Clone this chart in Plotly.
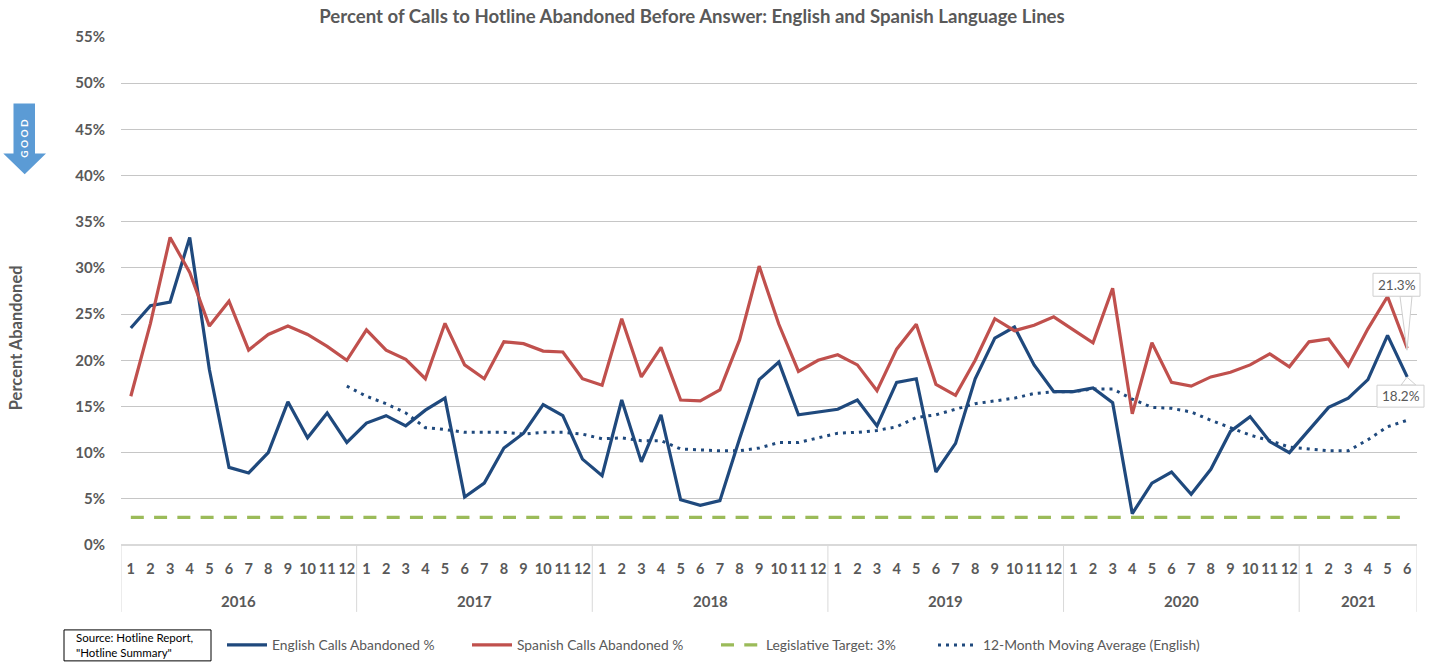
import plotly.graph_objects as go

years = [2016, 2017, 2018, 2019, 2020, 2021]
months_in_year = [12, 12, 12, 12, 12, 6]
month_labels = [str(m) for n in months_in_year for m in range(1, n + 1)]

english = [23.5, 25.9, 26.3, 33.3, 19.0, 8.4, 7.8, 10.0, 15.5, 11.6, 14.3, 11.1,
           13.2, 14.0, 12.9, 14.6, 15.9, 5.2, 6.7, 10.5, 12.1, 15.2, 14.0, 9.3,
           7.5, 15.7, 9.0, 14.1, 4.9, 4.3, 4.8, 11.5, 17.9, 19.8, 14.1, 14.4,
           14.7, 15.7, 12.9, 17.6, 18.0, 7.9, 11.0, 18.0, 22.4, 23.6, 19.5, 16.6,
           16.6, 17.0, 15.4, 3.4, 6.7, 7.9, 5.5, 8.2, 12.3, 13.9, 11.2, 10.0,
           12.5, 14.9, 15.9, 17.9, 22.7, 18.2]
spanish = [16.1, 24.0, 33.3, 29.5, 23.7, 26.4, 21.1, 22.8, 23.7, 22.8, 21.5, 20.0,
           23.3, 21.1, 20.1, 18.0, 24.0, 19.5, 18.0, 22.0, 21.8, 21.0, 20.9, 18.0,
           17.3, 24.5, 18.2, 21.4, 15.7, 15.6, 16.8, 22.2, 30.2, 23.9, 18.8, 20.0,
           20.6, 19.5, 16.7, 21.2, 23.9, 17.4, 16.2, 20.0, 24.5, 23.2, 23.8, 24.7,
           23.3, 21.9, 27.8, 14.2, 21.9, 17.6, 17.2, 18.2, 18.7, 19.5, 20.7, 19.3,
           22.0, 22.3, 19.4, 23.4, 26.9, 21.3]
target = [3.0] * 66
moving_avg = [None] * 11 + [
    17.2, 16.1, 15.3, 14.3, 12.7, 12.5, 12.2, 12.2, 12.2, 12.0, 12.2, 12.2, 12.0,
    11.5, 11.6, 11.3, 11.3, 10.4, 10.3, 10.2, 10.2, 10.5, 11.1, 11.1, 11.6,
    12.1, 12.2, 12.4, 12.8, 13.8, 14.1, 14.7, 15.3, 15.6, 15.9, 16.4, 16.6,
    16.6, 16.9, 16.9, 15.8, 14.9, 14.8, 14.4, 13.5, 12.7, 11.9, 11.3, 10.6,
    10.4, 10.2, 10.2, 11.4, 12.8, 13.5]

W, H = 1429, 662
L, R, T, B = 121, 1417, 36.5, 545
GREY = "#595959"
FONT = "Lato"
xs = list(range(len(english)))

def px(x):
    return (x - L) / (R - L)

def py(y):
    return (B - y) / (B - T)

def path(points):
    return "M " + " L ".join(f"{px(x):.5f},{py(y):.5f}" for x, y in points) + " Z"

def legend_at(x):
    return dict(orientation="h", xref="container", yref="container", x=x / W, xanchor="left",
                y=1 - 645 / H, yanchor="middle", itemwidth=40, bgcolor="rgba(0,0,0,0)",
                font=dict(family=FONT, size=13.8, color=GREY))

def note(text, x, y, size, color=GREY, **kw):
    opts = dict(text=text, xref="paper", yref="paper", x=px(x), y=py(y), xanchor="center", yanchor="middle",
                showarrow=False, font=dict(family=FONT, size=size, color=color))
    opts.update(kw)
    return opts

fig = go.Figure()
fig.add_trace(go.Scatter(x=xs, y=english, mode="lines", name="English Calls Abandoned %", legend="legend",
                         showlegend=True, line=dict(color="#1F497D", width=3.2)))
fig.add_trace(go.Scatter(x=xs, y=spanish, mode="lines", name="Spanish Calls Abandoned %", legend="legend2",
                         showlegend=True, line=dict(color="#C0504D", width=3.2)))
fig.add_trace(go.Scatter(x=xs, y=target, mode="lines", name="Legislative Target: 3%", legend="legend3",
                         showlegend=True, line=dict(color="#9BBB59", width=3.2, dash="13px,10.26px")))
fig.add_trace(go.Scatter(x=xs, y=moving_avg, mode="lines", name="12-Month Moving Average (English)", legend="legend4",
                         showlegend=True, connectgaps=False, line=dict(color="#1F497D", width=3, dash="3px,5px")))

shapes = []
annotations = []
start = 0
boundaries = [0]
for yr, n in zip(years, months_in_year):
    annotations.append(dict(text=f"<b>{yr}</b>", xref="x", yref="paper", x=start + (n - 1) / 2,
                            y=py(601), xanchor="center", yanchor="middle", showarrow=False,
                            font=dict(family=FONT, size=15, color=GREY)))
    start += n
    boundaries.append(start)
for b in boundaries:
    shapes.append(dict(type="line", xref="x", yref="paper", x0=b - 0.5, x1=b - 0.5,
                       y0=py(B), y1=py(612), line=dict(color="#D9D9D9", width=1)))

# GOOD arrow
shapes.append(dict(type="path", xref="paper", yref="paper", fillcolor="#5B9BD5",
                   line=dict(color="#5B9BD5", width=0),
                   path=path([(13.5, 103), (35, 103), (35, 153), (46, 153), (24.7, 174), (3.3, 153), (13.5, 153)])))
annotations.append(note("<b>G O O D</b>", 24.3, 138, 10, color="white", textangle=-90))

# Callout wedges and boxes
CALL = "#CFCFCF"
shapes.append(dict(type="path", xref="paper", yref="paper", fillcolor="white", line=dict(color=CALL, width=1),
                   path=path([(1400, 296), (1407, 350), (1412, 296)])))
shapes.append(dict(type="path", xref="paper", yref="paper", fillcolor="white", line=dict(color=CALL, width=1),
                   path=path([(1401, 385), (1407, 377), (1416, 385)])))
for x0, x1, y0, y1, txt in [(1373, 1420, 273, 296, "21.3%"), (1377, 1424, 385, 407, "18.2%")]:
    shapes.append(dict(type="rect", xref="paper", yref="paper", x0=px(x0), x1=px(x1), y0=py(y0), y1=py(y1),
                       fillcolor="white", line=dict(color=CALL, width=1)))
    annotations.append(note(txt, (x0 + x1) / 2, (y0 + y1) / 2, 13.5))

# Source box
shapes.append(dict(type="rect", xref="paper", yref="paper", x0=px(64), x1=px(211), y0=py(630), y1=py(661),
                   fillcolor="white", line=dict(color="black", width=1)))
annotations.append(note('Source: Hotline Report,<br>"Hotline Summary"', 74, 645.5, 11.5, color="black",
                        xanchor="left", align="left"))

# Axis title
annotations.append(note("<b>Percent Abandoned</b>", 16, 338, 16.5, textangle=-90))

fig.update_layout(
    width=W, height=H, margin=dict(l=L, r=W - R, t=T, b=H - B, pad=0),
    paper_bgcolor="white", plot_bgcolor="white", showlegend=True,
    font=dict(family=FONT, color=GREY),
    title=dict(text="<b>Percent of Calls to Hotline Abandoned Before Answer: English and Spanish Language Lines</b>",
               x=692 / W, xanchor="center", y=1 - 16 / H, yanchor="middle",
               font=dict(family=FONT, size=18.6, color=GREY)),
    xaxis=dict(range=[-0.5, len(xs) - 0.5], tickmode="array", tickvals=xs, ticktext=[f"<b>{m}</b>" for m in month_labels],
               showgrid=False, zeroline=False, showline=False, ticks="", ticklabelstandoff=13,
               tickangle=0, tickfont=dict(family=FONT, size=14.5, color=GREY)),
    yaxis=dict(range=[0, 55], tickmode="array", tickvals=list(range(0, 56, 5)),
               ticktext=[f"<b>{v}%</b>" for v in range(0, 56, 5)],
               showgrid=True, gridcolor="#C6C6C6", gridwidth=1.2, zeroline=True, zerolinecolor="#D9D9D9", zerolinewidth=1.5,
               showline=False, ticks="", ticklabelstandoff=15,
               tickfont=dict(family=FONT, size=15, color=GREY)),
    legend=legend_at(222), legend2=legend_at(467), legend3=legend_at(716), legend4=legend_at(933),
    shapes=shapes, annotations=annotations,
)

fig.write_html("out.html", post_script="document.body.style.margin='0';document.documentElement.style.overflow='hidden';",
               config=dict(displayModeBar=False))
